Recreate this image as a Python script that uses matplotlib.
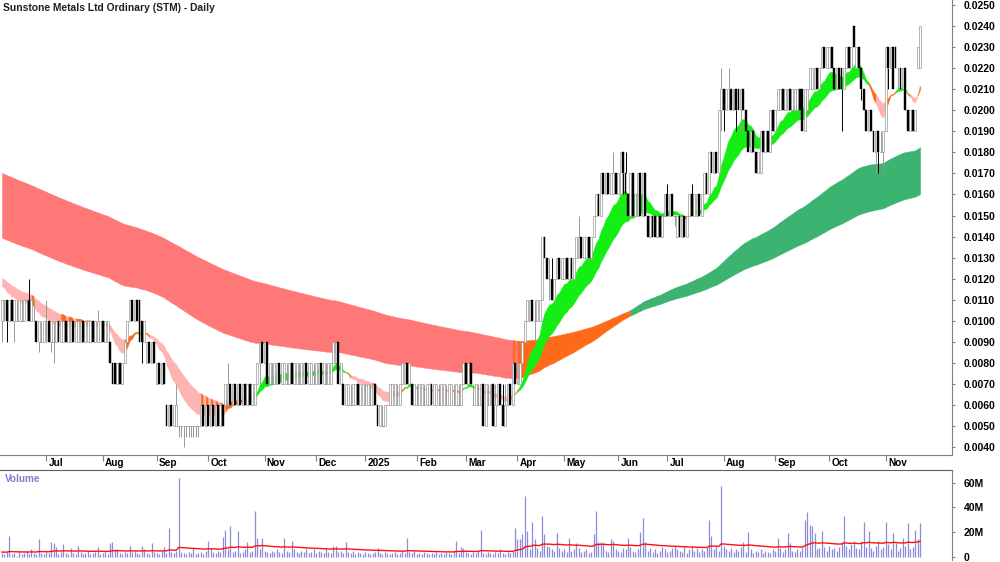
import numpy as np
import pandas as pd
import matplotlib
matplotlib.use("Agg")
import matplotlib.pyplot as plt
import matplotlib.transforms as mtransforms
from matplotlib.ticker import FormatStrFormatter

plt.rcParams['font.family'] = ['Liberation Sans', 'DejaVu Sans']

title = "Sunstone Metals Ltd Ordinary (STM) - Daily"
first_day = "2024-06-04"
asx_holidays = ["2024-06-10", "2024-12-25", "2024-12-26", "2025-01-01", "2025-01-27",
                "2025-04-18", "2025-04-21", "2025-04-25", "2025-06-09"]

# daily prices in units of 0.001, 25 bars per row
opens = [
    10,11,11,10,11,10,10,10,10,10,11,11,10,10,10,9,9,9,10,10,9,9,9,10,9,
    9,10,9,9,10,9,9,9,10,9,9,9,10,9,9,9,10,9,9,9,8,8,7,8,7,
    8,9,10,11,10,11,11,10,9,8,9,8,9,7,8,7,8,6,5,6,5,5,5,5,5,
    5,5,5,5,5,5,5,6,5,6,5,6,5,6,5,6,6,6,7,6,7,6,7,6,7,
    6,7,6,6,7,8,9,8,9,7,7,7,7,8,7,7,7,7,8,7,7,7,7,7,8,
    7,7,7,7,7,8,7,7,7,7,8,8,9,7,7,6,6,6,6,6,7,6,6,6,6,
    6,6,7,6,5,5,5,6,6,6,6,6,6,7,7,8,7,7,6,6,6,6,6,6,6,
    7,6,6,6,6,6,6,6,6,6,6,6,6,7,8,7,8,6,6,6,6,7,5,6,6,
    7,5,6,7,6,5,6,7,6,8,7,7,8,9,10,10,11,10,10,10,11,14,13,12,12,
    11,12,13,12,12,13,12,13,12,13,13,14,13,13,14,13,14,15,16,15,17,16,17,16,16,
    17,16,16,18,17,16,15,17,15,15,17,15,17,15,14,15,15,14,15,14,15,16,15,16,15,
    14,15,14,15,14,15,16,15,15,16,15,16,17,16,18,17,18,17,20,21,20,21,21,20,21,
    21,20,21,20,19,18,19,18,17,17,19,18,19,18,20,19,20,20,21,20,20,21,20,20,20,
    21,21,19,20,21,21,21,22,21,22,23,22,22,23,22,21,22,22,21,22,23,22,24,22,23,
    22,21,20,19,20,19,18,19,18,18,19,23,22,23,23,22,22,21,22,20,19,20,19,22,22,
]
highs = [
    11,11,11,11,11,11,11,11,11,11,11,12,11,11,10,10,10,10,11,10,10,10,10,10,10,
    10,10,10,10,10,10,10,10,10,10,10,10,10,10,10.5,10,10,10,10,9,8,8,8,8,8,
    9,10,11,11,11,11,11,10,10,9,9,9,9,8,8,8,8,6,6,6,6,7,5,5,5,
    5,5,5,5,5,5,6,6,6,6,6,6,6,6,6,6,7,8,7,7,7,7,7,7,7,
    7,7,7,7,8,9,9,9,9,8,8,8,8,8,8,8,8,8,8,8,8,8,8,8,8,
    8,8,8,8,8,8,8,8,8,8,9,9,9,8,7,7,7,7,7,7,7,7,7,7,7,
    7,7,7,6,6,6,6,6,7,7,7,7,7,8,8,8,8,7,7,7,7,7,7,7,7,
    7,7,7,7,7,7,7,7,7,7,7,7,7,8,8,8,8,7,7,7,7,7,7,7,7,
    7,7,7,7,7,7,7,7,8,8,8,8,9,10,11,11,11,11,11,11,14,14,13,13,13,
    12,13,13,13,13,13,13,13,13,14,15,14,14,14,14,14,15,16,16,17,17,17,17,17,18,
    17,17,18,18,18,16,17,17,16,17,17,17,17,15,15,15,15,15,15,15,16,16.5,16,16,15,
    15,15,15,15,15,16,16.5,16,16,16,16,17,17,18,18,18,18,20,22,21,21,22,21,21,21,
    21,21,21,20,19,19,19,18,18,19,19,19,19,20,20,20,21,21,21,21,21,21,21,21,21,
    21,21,21,21,22,22,22,22,22,23,23,23,23,23,22,22,22,22,22,23,23,23,24,23,23,
    22,21,20,20,20,19,19,19,19,19,23,23,23,23,23,22,22,22,22,20,20,20,20,23,24,
]
lows = [
    9,10,9,10,10,9,10,10,10,10,10,10,10,10,9,8.5,9,9,9,9,8.5,8,9,9,9,
    9,9,9,9,9,9,9,9,9,9,9,9,9,9,9,9,9,9,9,8,7,7,7,7,7.5,
    8,9,10,10,10,10,9,8,9,8,8,8,8,7,7,7,7,5,5,5,5,5,4.5,4.5,4,
    4.5,4.5,4.5,4.5,4.5,4.5,5,5,5,5,5,5,5,5,5,5,6,6,6,6,6,6,6,6,6,
    6,6,6,6,7,7,8,8,7,7,7,7,7,7,7,7,7,7,7,7,7,7,7,7,7,
    7,7,7,7,7,7,7,7,7,7,8,8,7,7,6,6,6,6,6,6,6,6,6,6,6,
    6,6,6,5,5,5,5,6,6,6,6,6,6,7,7,7,7,6,6,6,6,6,6,6,6,
    6,6,6,6,6,6,6,6,6,6,6,6,6,7,7,7,7,6,6,6,6,5,5,6,6,
    5,5,6,6,5,5,6,6,6,7,7,7,8,9,10,10,10,9,10,10,11,13,12,11,11,
    11,12,12,12,12,12,12,12,12,13,13,13,13,13,13,13,14,15,15,15,16,16,16,16,16,
    16,16,16,16,16,15,15,15,15,15,15,15,15,14,14,14,14,14,14,14,15,15,15,15,14.5,
    14,14,14,14,14,15,15,15,15,15,15,16,16,16,17,17,17,17,19,19,20,20,20,20,19,
    20,19,20,19,18,18,18,17,17,17,18,18,18,18,19,19,20,20,20,20,20,20,20,20,20,
    20,19,19,20,21,21,21,21,21,22,22,22,22,22,21,21,21,19,21,22,22,22,23,22,22,
    20.5,20,19,19,19,18,17,17,18,17,19,21,22,21,22,21,21,21,20,19,19,19,19,22,22,
]
closes = [
    11,11,10,11,10,11,10,11,10,11,11,10,11,10,9,10,9,10,10,9,10,9,10,9,10,
    10,9,10,10,9,10,10,10,9,10,10,10,9,10,10,10,9,10,10,8,7,7,8,7,8,
    9,10,11,10,11,10,9,9,10,9,8,9,8,8,7,8,7,5,6,5,6,6,5,5,5,
    5,5,5,5,5,5,6,5,6,5,6,5,6,5,6,5,7,7,6,7,6,7,6,7,6,
    7,6,7,7,8,9,8,9,7,8,7,8,8,7,8,8,7,8,7,8,8,7,8,8,7,
    8,8,7,8,8,7,8,7,8,8,9,9,7,8,6,7,7,6,7,7,6,7,7,6,7,
    6,7,6,5,6,5,6,6,7,7,7,6,7,8,8,7,8,6,7,6,7,7,6,7,7,
    6,7,7,6,7,7,6,7,7,6,7,6,7,8,7,8,7,6,7,6,7,5,7,6,7,
    5,6,7,6,5,6,7,6,8,7,8,8,9,10,11,11,10,10,11,11,14,13,12,12,11,
    12,13,12,13,13,12,13,12,13,14,14,13,14,14,13,14,15,16,15,17,16,17,16,17,17,
    16,17,18,17,16,15,17,15,16,17,15,17,15,14,15,14,14,15,14,15,16,15,16,15,15,
    15,14,15,14,15,16,15,16,16,15,16,17,16,18,17,18,17,20,21,20,21,21,20,21,20,
    20,21,20,19,18,19,18,17,18,19,18,19,18,20,19,20,21,21,20,21,21,20,21,21,21,
    20,19,21,21,22,22,22,21,22,23,22,23,23,22,21,22,21,21,22,23,22,23,23,23,22,
    21,20,19,20,19,18,19,18,18,19,23,22,23,21,22,22,21,22,20,19,20,19,20,23,24,
]
# daily volume in millions of shares
volume_m = [
    3,2,4,17,2,3,1,4,2,3,5,2,6,3,2,14,3,2,4,3,12,11,8,2,4,
    10,3,2,7,3,2,9,4,2,3,5,2,3,4,8,2,3,4,2,11,12,6,6,3,2,
    4,3,9,4,5,3,2,9,6,3,2,11,4,3,2,5,8,3,23,4,3,5,64,4,3,
    2,4,3,7,2,3,4,2,5,13,7,4,3,5,4,16,22,6,25,4,5,21,3,4,6,
    12,4,5,37,15,6,15,5,4,3,5,4,6,4,3,15,5,4,13,6,4,3,5,4,6,
    3,4,6,3,5,4,3,6,4,3,9,9,4,5,3,12,4,3,5,2,4,3,2,4,3,
    2,3,4,7,3,2,4,3,2,3,4,2,3,5,3,15,4,3,5,2,3,2,4,3,2,
    3,2,4,2,3,2,4,3,2,5,13,3,8,7,4,3,2,4,3,5,22,3,2,4,3,
    2,4,3,6,3,2,4,3,5,23,14,14,18,49,21,6,28,14,7,5,33,18,9,8,6,
    5,19,7,5,6,4,15,5,6,11,7,4,5,6,3,4,18,37,12,12,11,5,4,14,13,
    6,5,4,7,6,15,8,5,4,6,20,31,12,5,7,4,6,3,5,8,6,4,5,7,9,
    6,5,4,8,3,6,9,5,7,4,6,5,8,30,17,6,9,5,57,9,6,5,7,4,6,
    5,8,12,4,20,6,3,5,4,6,3,5,4,3,6,5,15,7,4,6,19,11,5,4,6,
    5,8,30,36,26,25,19,6,7,21,8,5,9,6,7,5,8,12,33,9,6,10,13,7,6,
    13,28,8,21,7,5,9,13,6,8,28,10,6,19,11,5,7,15,9,27,6,8,22,14,27,
]

# moving-average ribbons (periods and starting levels read from the left edge)
short_periods = [14, 16, 19, 22, 26, 30]
short_start = [11.75, 11.8, 11.85, 11.95, 12.0, 12.1]
long_periods = [140, 160, 180, 200, 225, 255]
long_start = [13.98, 14.6, 15.2, 15.8, 16.45, 17.07]
vol_ma_span = 50
vol_ma_start = 3.8

short_colors = {"bull": "#14EE14", "bear": "#FFB4B4", "mix": "#FF6A1A"}
long_colors = {"bull": "#3CB371", "bear": "#FF7878", "mix": "#FF6A1A"}

n = len(closes)
x = np.arange(n)
o = np.array(opens) * 0.001
h = np.array(highs) * 0.001
l = np.array(lows) * 0.001
c = np.array(closes) * 0.001
vol = np.array(volume_m) * 1e6
dates = pd.bdate_range(first_day, periods=n, freq="C", holidays=asx_holidays)


def ema_path(values, period, start):
    a = 2.0 / (period + 1)
    out = np.empty(len(values))
    level = start
    for k, v in enumerate(values):
        level += a * (v - level)
        out[k] = level
    return out


def ribbon(ax, emas, colors):
    emas = np.array(emas)
    lo, hi = emas.min(axis=0), emas.max(axis=0)
    fast, slow = emas[0], emas[-1]
    mid = emas.mean(axis=0)
    bear_order = (np.diff(emas, axis=0) > 0).all(axis=0)
    falling = np.diff(mid, prepend=mid[0]) <= 0
    state = np.where(fast > slow, "bull", np.where(bear_order & falling, "bear", "mix"))
    s = 0
    for k in range(1, n + 1):
        if k == n or state[k] != state[s]:
            seg = slice(s, min(k + 1, n))
            col = colors[state[s]]
            ax.fill_between(x[seg], lo[seg], hi[seg], facecolor=col, edgecolor=col,
                            linewidth=0.3, zorder=1)
            s = k


W, H = 1000, 562
fig = plt.figure(figsize=(10, 5.62), dpi=100)
ax = fig.add_axes([0, 1 - 455 / H, 952 / W, 455 / H])
axv = fig.add_axes([0, 2 / H, 952 / W, 90 / H])

# ribbons
long_emas = [ema_path(c, p, s * 0.001) for p, s in zip(long_periods, long_start)]
short_emas = [ema_path(c, p, s * 0.001) for p, s in zip(short_periods, short_start)]
ribbon(ax, long_emas, long_colors)
ribbon(ax, short_emas, short_colors)

# candles
up = c > o
dn = c < o
fl = c == o
blo = np.minimum(o, c)
bhi = np.maximum(o, c)
wick_col = np.where(dn, "black", "#999999")
ax.vlines(x, l, blo, colors=wick_col, linewidth=0.7, zorder=3)
ax.vlines(x, bhi, h, colors=wick_col, linewidth=0.7, zorder=3)
ax.bar(x[up], (bhi - blo)[up], bottom=blo[up], width=0.8, facecolor="white",
       edgecolor="#999999", linewidth=0.5, zorder=4)
ax.bar(x[dn], (bhi - blo)[dn], bottom=blo[dn], width=0.75, facecolor="black",
       edgecolor="black", linewidth=0.3, zorder=4)
ax.hlines(c[fl], x[fl] - 0.45, x[fl] + 0.45, colors="#999999", linewidth=0.7, zorder=4)

ax.set_xlim(-0.8, 387)
ax.set_ylim(0.003622, 0.025238)
ax.yaxis.tick_right()
ax.set_yticks(np.arange(4, 26) * 0.001)
ax.yaxis.set_major_formatter(FormatStrFormatter("%.4f"))
ax.tick_params(axis="y", direction="out", length=2.5, pad=6, labelsize=7.5, color="#808080")
for t in ax.get_yticklabels():
    t.set_fontweight("bold")

month_idx = [k for k in range(1, n) if dates[k].month != dates[k - 1].month]
month_lab = ["2025" if dates[k].month == 1 else dates[k].strftime("%b") for k in month_idx]
ax.set_xticks(month_idx)
ax.set_xticklabels([])
ax.tick_params(axis="x", direction="out", length=4, color="#808080")
trans = mtransforms.blended_transform_factory(ax.transData, ax.transAxes)
for k, lab in zip(month_idx, month_lab):
    ax.text(k + 0.9, -8 / 455, lab, transform=trans, ha="left", va="center",
            fontsize=7.2, fontweight="bold")

for side in ("top", "left"):
    ax.spines[side].set_visible(False)
ax.spines["right"].set_color("#808080")
ax.spines["bottom"].set_color("#808080")

# volume panel
vol_ma = ema_path(vol, vol_ma_span, vol_ma_start * 1e6)
axv.vlines(x, 0, vol, colors="#8C8CD8", linewidth=0.9)
axv.plot(x, vol_ma, color="#FF1010", linewidth=1.0)
axv.set_xlim(-0.8, 387)
axv.set_ylim(-2.64e6, 70.2e6)
axv.yaxis.tick_right()
axv.set_yticks([0, 20e6, 40e6, 60e6])
axv.set_yticklabels(["0", "20M", "40M", "60M"])
axv.set_xticks([])
axv.tick_params(axis="y", direction="out", length=2.5, pad=6, labelsize=7.5, color="#808080")
for t in axv.get_yticklabels():
    t.set_fontweight("bold")
for side in ("left", "bottom"):
    axv.spines[side].set_visible(False)
axv.spines["right"].set_color("#808080")
axv.spines["top"].set_color("#606060")

fig.text(5 / W, 1 - 479 / H, "Volume", color="#8080C8", fontsize=7.2, fontweight="bold", va="center")
fig.text(3 / W, 1 - 8 / H, title, color="#202020", fontsize=7.4, fontweight="bold", va="center")

fig.savefig("out.png", dpi=100)
